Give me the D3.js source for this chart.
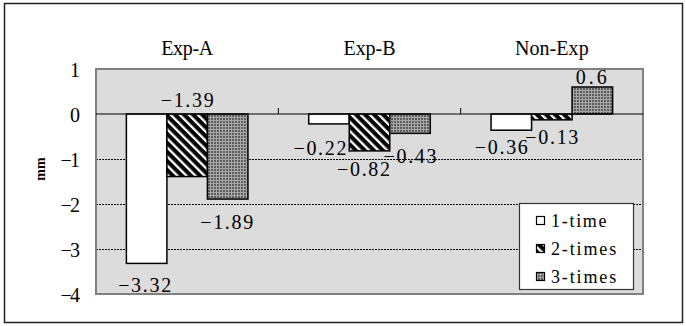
<!DOCTYPE html>
<html>
<head>
<meta charset="utf-8">
<script src="https://cdn.jsdelivr.net/npm/d3@7/dist/d3.min.js"></script>
<style>
  html, body { margin: 0; padding: 0; background: #fff; }
  svg { display: block; }
  text { font-family: "Liberation Serif", "DejaVu Serif", serif; fill: #000; }
</style>
</head>
<body>
<svg id="chart" width="686" height="326"></svg>
<script>
// Groups, series and values
const categories = ["Exp-A", "Exp-B", "Non-Exp"];
const seriesNames = ["1-time", "2-times", "3-times"];
const values1 = [-3.32, -0.22, -0.36];
const values2 = [-1.39, -0.82, -0.13];
const values3 = [-1.89, -0.43, 0.6];
const yTicks = [1, 0, -1, -2, -3, -4];
const yLabel = "mm";

// Hand placement of each value label relative to its bar end (px), per series
const labelOffsets = [
  [[-2, 22], [-9, 24], [-10, 17]],
  [[0, -77], [-6, 18], [0, 17]],
  [[-1, 23], [0, 23], [-1, -10]]
];

const seriesValues = [values1, values2, values3];

// Half-width character pitch: every character gets the same advance
function pitchText(sel, pitch) {
  sel.each(function () {
    const s = this.textContent;
    const n = Array.from(s).length;
    d3.select(this)
      .attr("textLength", n * pitch - 2)
      .attr("lengthAdjust", "spacing");
  });
}
const fmtNum = v => String(v).replace("-", "\u2212");

const svg = d3.select("#chart");
const plot = { left: 96, right: 643, top: 69, bottom: 294 };

// Outer frame
svg.append("rect")
  .attr("x", 4.5).attr("y", 3.5).attr("width", 678).attr("height", 319)
  .attr("fill", "#fff").attr("stroke", "#222").attr("stroke-width", 1.5);

// Fill patterns
const defs = svg.append("defs");
const stripe = defs.append("pattern")
  .attr("id", "stripes").attr("patternUnits", "userSpaceOnUse")
  .attr("width", 6.4).attr("height", 6.4)
  .attr("patternTransform", "rotate(-45)");
stripe.append("rect").attr("width", 6.4).attr("height", 6.4).attr("fill", "#000");
stripe.append("rect").attr("x", 0).attr("width", 2.3).attr("height", 6.4).attr("fill", "#fff");

const mesh = defs.append("pattern")
  .attr("id", "mesh").attr("patternUnits", "userSpaceOnUse")
  .attr("width", 3).attr("height", 3);
mesh.append("rect").attr("width", 3).attr("height", 3).attr("fill", "#5e5e5e");
mesh.append("rect").attr("width", 3).attr("height", 1).attr("fill", "#a8a8a8");
mesh.append("rect").attr("width", 1).attr("height", 3).attr("fill", "#a8a8a8");

const fills = ["#fff", "url(#stripes)", "url(#mesh)"];

// Scales: each group holds three bars plus 0.75 bar of gap on each side
const x0 = d3.scaleBand().domain(categories).range([plot.left, plot.right]);
const x1 = d3.scaleBand().domain(d3.range(seriesNames.length))
  .range([0, x0.bandwidth()]).paddingInner(0).paddingOuter(0.75);
const y = d3.scaleLinear().domain([1, -4]).range([plot.top, plot.bottom]);

// Plot area
svg.append("rect")
  .attr("x", plot.left).attr("y", plot.top)
  .attr("width", plot.right - plot.left).attr("height", plot.bottom - plot.top)
  .attr("fill", "#dcdcdc");

// Gridlines
svg.append("g")
  .selectAll("line")
  .data(yTicks.filter(t => t < 0 && t > -4))
  .join("line")
  .attr("x1", plot.left).attr("x2", plot.right)
  .attr("y1", d => Math.round(y(d)) + 0.5).attr("y2", d => Math.round(y(d)) + 0.5)
  .attr("stroke", "#000").attr("stroke-width", 1)
  .attr("stroke-dasharray", "2,1");

// Plot area border
svg.append("rect")
  .attr("x", plot.left).attr("y", plot.top)
  .attr("width", plot.right - plot.left).attr("height", plot.bottom - plot.top)
  .attr("fill", "none").attr("stroke", "#808080").attr("stroke-width", 2);

// Category labels
svg.append("g")
  .selectAll("text")
  .data(categories)
  .join("text")
  .attr("x", d => x0(d) + x0.bandwidth() / 2)
  .attr("y", 48)
  .attr("text-anchor", "middle")
  .attr("dominant-baseline", "central")
  .attr("font-size", 20)
  .text(d => d)
  .call(pitchText, 10.8);

// Value axis labels
const yAxis = svg.append("g")
  .attr("transform", `translate(${plot.left},0)`)
  .call(d3.axisLeft(y).tickValues(yTicks).tickSize(0).tickPadding(16).tickFormat(d3.format("d")));
yAxis.select(".domain").remove();
yAxis.selectAll("text")
  .attr("font-family", "Liberation Serif, DejaVu Serif, serif")
  .attr("font-size", 20).attr("fill", "#000")
  .attr("dy", "0.36em")
  .text(d => fmtNum(d))
  .call(pitchText, 10.8);

// Axis title
svg.append("text")
  .attr("transform", "translate(40,169) rotate(-90)")
  .attr("text-anchor", "middle")
  .attr("dominant-baseline", "central")
  .attr("font-family", "Liberation Sans, Arial, sans-serif")
  .attr("font-weight", "bold")
  .attr("font-size", 14)
  .text(yLabel);

// Bars
const barData = [];
categories.forEach((c, ci) => {
  seriesValues.forEach((vals, si) => {
    barData.push({ c, ci, si, v: vals[ci] });
  });
});

svg.append("g")
  .selectAll("rect")
  .data(barData)
  .join("rect")
  .attr("x", d => x0(d.c) + x1(d.si))
  .attr("y", d => Math.min(y(d.v), y(0)))
  .attr("width", x1.bandwidth())
  .attr("height", d => Math.abs(y(d.v) - y(0)))
  .attr("fill", d => fills[d.si])
  .attr("stroke", "#000")
  .attr("stroke-width", 1.5);

// Category axis along zero with tick marks between groups
svg.append("line")
  .attr("x1", plot.left).attr("x2", plot.right)
  .attr("y1", y(0)).attr("y2", y(0))
  .attr("stroke", "#000").attr("stroke-width", 1.2);
svg.append("g")
  .selectAll("line")
  .data(categories.slice(1))
  .join("line")
  .attr("x1", d => x0(d)).attr("x2", d => x0(d))
  .attr("y1", y(0)).attr("y2", y(0) - 6)
  .attr("stroke", "#000").attr("stroke-width", 1);

// Value labels
svg.append("g")
  .selectAll("text")
  .data(barData)
  .join("text")
  .attr("x", d => x0(d.c) + x1(d.si) + x1.bandwidth() / 2 + labelOffsets[d.si][d.ci][0])
  .attr("y", d => y(d.v) + labelOffsets[d.si][d.ci][1])
  .attr("text-anchor", "middle")
  .attr("dominant-baseline", "central")
  .attr("font-size", 20)
  .text(d => fmtNum(d.v))
  .call(pitchText, 11);

// Legend
const legend = svg.append("g").attr("transform", "translate(519,203)");
legend.append("rect")
  .attr("x", 0.5).attr("y", 0.5).attr("width", 114).attr("height", 86)
  .attr("fill", "#fff").attr("stroke", "#333").attr("stroke-width", 1.2);
const items = legend.selectAll("g.item")
  .data(seriesNames)
  .join("g")
  .attr("class", "item")
  .attr("transform", (d, i) => `translate(0,${18 + i * 28})`);
items.append("rect")
  .attr("x", 17.5).attr("y", -4.5).attr("width", 8).attr("height", 8)
  .attr("fill", (d, i) => fills[i])
  .attr("stroke", "#000").attr("stroke-width", 1.2);
items.append("text")
  .attr("x", 32).attr("y", 0)
  .attr("dominant-baseline", "central")
  .attr("font-size", 18)
  .text(d => d)
  .call(pitchText, 9.6);
</script>
</body>
</html>
